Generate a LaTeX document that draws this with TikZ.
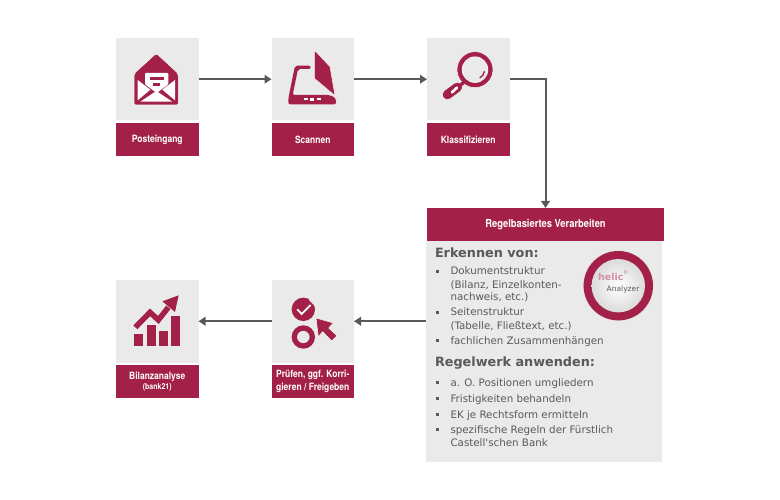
\documentclass[tikz,border=0pt]{standalone}
\usepackage{fontspec}
\setmainfont{DejaVu Sans}
\newfontfamily\plainf{DejaVu Sans}
\newfontfamily\condf[FakeStretch=0.85]{TeX Gyre Heros}
\usetikzlibrary{arrows.meta}
\definecolor{crim}{HTML}{A32148}
\definecolor{panel}{HTML}{EAEAEA}
\definecolor{txt}{HTML}{595959}
\definecolor{arr}{HTML}{595959}
\tikzset{
  tile/.style={fill=panel,draw=none,minimum width=82.5pt,minimum height=82.5pt,inner sep=0pt,outer sep=0pt,anchor=north west},
  lab/.style={fill=crim,draw=none,minimum width=82.5pt,minimum height=33pt,inner sep=0pt,outer sep=0pt,anchor=north west,text=white,align=center,font=\condf\bfseries\fontsize{10}{13}\selectfont},
  flow/.style={draw=arr,line width=2pt,-{Triangle[length=7pt,width=8.5pt]}},
  zm/.style={x=0.33333pt,y=-0.33333pt},
  icon/.style={fill=crim,draw=white!70!panel,line width=.5pt},
  hole/.style={fill=white,draw=none},
  line/.style={anchor=base west,text=txt,inner sep=0pt,outer sep=0pt,font=\fontsize{10.3}{12}\selectfont},
  head/.style={anchor=base west,text=txt,inner sep=0pt,outer sep=0pt,font=\bfseries\fontsize{12.8}{14}\selectfont},
  bul/.style={fill=txt,draw=none,minimum size=3pt,inner sep=0pt,outer sep=0pt}
}
\begin{document}
\begin{tikzpicture}[x=1pt,y=-1pt]
\useasboundingbox (0,0) rectangle (780,500);
% tiles
\node[tile] (t1) at (116,38) {};
\node[lab] (l1) at (116,123) {Posteingang};
\node[tile] (t2) at (271.5,38) {};
\node[lab] (l2) at (271.5,123) {Scannen};
\node[tile] (t3) at (427,38) {};
\node[lab] (l3) at (427,123) {Klassifizieren};
\node[tile] (t4) at (116,280) {};
\node[lab] (l4) at (116,365) {Bilanzanalyse\\[-2.5pt]{\fontsize{8.2}{9}\selectfont(bank21)}};
\node[tile] (t5) at (271.5,280) {};
\node[lab] (l5) at (271.5,365) {Prüfen, ggf. Korri-\\gieren / Freigeben};
% big panel
\node[fill=panel,minimum width=236pt,minimum height=221pt,inner sep=0pt,outer sep=0pt,anchor=north west] (body) at (426,241) {};
\node[lab,minimum width=237pt,font=\condf\bfseries\fontsize{11}{13}\selectfont] (hdr) at (427,208) {Regelbasiertes Verarbeiten};
% connectors
\draw[flow] (t1.east) -- (t2.west);
\draw[flow] (t2.east) -- (t3.west);
\draw[flow] (t3.east) -| (hdr.north);
\draw[flow] (t5.west) -- (t4.east);
\draw[flow] (t5.east -| body.west) -- (t5.east);
% envelope
\begin{scope}[shift={(125,45)},zm]
\fill[icon,rounded corners=2pt] (94,25) -- (160,86) -- (160,180) -- (27,180) -- (27,86) -- cycle;
\fill[hole,rounded corners=1pt] (60,84) -- (130,84) -- (130,118) -- (95,144) -- (60,118) -- cycle;
\fill[crim] (74,97) rectangle (116,105);
\fill[crim] (84,115) rectangle (106,122);
\fill[hole] (38,105) -- (76,134) -- (38,166) -- cycle;
\fill[hole] (150,105) -- (112,134) -- (150,166) -- cycle;
\fill[hole] (46,170) -- (94,138) -- (142,170) -- cycle;
\end{scope}
% scanner
\begin{scope}[shift={(280,45)},zm]
\fill[crim,rounded corners=2pt] (25,178) -- (25,160) -- (45,62) -- (92,62) -- (92,72) -- (54,72) -- (38,150) -- (150,150) -- (168,160) -- (168,178) -- cycle;
\fill[icon] (103,15) -- (150,65) -- (165,152) -- (103,100) -- cycle;
\fill[hole] (71,160) rectangle (84,165);
\fill[hole] (91,158) rectangle (103,167);
\fill[hole] (110,160) rectangle (123,165);
\end{scope}
% magnifier
\begin{scope}[shift={(440,48)},zm]
\fill[icon] (105,65) circle[radius=18pt];
\fill[white!70!panel] (105,65) circle[radius=13.2pt];
\fill[panel] (105,65) circle[radius=12.6pt];
\draw[crim,line width=1.3pt] (133,70) arc[start angle=-5,end angle=-65,radius=8pt];
\draw[crim,line width=3.5pt] (74,100) -- (50,122);
\draw[crim,line width=9.3pt,line cap=round] (52,118) -- (22,140);
\draw[white,line width=2.7pt,line cap=round] (36,133) -- (51,119);
\end{scope}
% chart
\begin{scope}[shift={(125,288)},zm]
\fill[crim] (28,138) rectangle (55,175);
\fill[crim] (65,112) rectangle (92,175);
\fill[crim] (102,130) rectangle (130,175);
\fill[crim] (138,83) rectangle (165,175);
\draw[crim,line width=5.5pt] (31,118) -- (75,73) -- (100,96) -- (130,58);
\fill[crim] (161,22) -- (150,72) -- (112,40) -- cycle;
\end{scope}
% check
\begin{scope}[shift={(280,288)},zm]
\fill[crim] (70,64) circle[radius=11.7pt];
\draw[white,line width=1.8pt] (52,64) -- (65,78) -- (92,51);
\draw[panel,line width=1.4pt] (88,34) -- (107,54);
\draw[crim,line width=5.3pt] (70,147) circle[radius=9pt];
\fill[icon] (108,90) -- (160,105) -- (146,120) -- (171,143) -- (155,159) -- (128,131) -- (115,146) -- cycle;
\end{scope}
% text
\node[head] (h1) at (435,258) {Erkennen von:};
\node[line] (a1) at (450.5,275) {Dokumentstruktur};
\node[line] (a2) at (450.5,288) {(Bilanz, Einzelkonten-};
\node[line] (a3) at (450.5,300.5) {nachweis, etc.)};
\node[line] (a4) at (450.5,315.5) {Seitenstruktur};
\node[line] (a5) at (450.5,329) {(Tabelle, Fließtext, etc.)};
\node[line] (a6) at (450.5,344.5) {fachlichen Zusammenhängen};
\node[head] (h2) at (435,366) {Regelwerk anwenden:};
\node[line] (b1) at (450.5,386) {a. O. Positionen umgliedern};
\node[line] (b2) at (450.5,402) {Fristigkeiten behandeln};
\node[line] (b3) at (450.5,418) {EK je Rechtsform ermitteln};
\node[line] (b4) at (450.5,433.5) {spezifische Regeln der Fürstlich};
\node[line] (b5) at (450.5,446.5) {Castell{\plainf '}schen Bank};
\foreach \n/\y in {p1/271.5,p2/312,p3/340,q1/382.5,q2/398.5,q3/414,q4/429.5}{
  \node[bul] (\n) at (437,\y) {};
}
% seal
\fill[white!80!gray] (618.3,285.7) circle[radius=35.7];
\fill[crim] (618.3,285.7) circle[radius=34.7];
\shade[inner color=white,outer color=black!14] (618.3,285.7) circle[radius=26.7];
\node[anchor=base west,inner sep=0pt,text=crim!50,font=\bfseries\fontsize{9.5}{10}\selectfont] (hel) at (598,280) {helic};
\node[anchor=base west,inner sep=0pt,text=txt,font=\fontsize{7.5}{9}\selectfont] (ana) at (606.5,291) {Analyzer};
\draw[crim!50,line width=.5pt] (625.8,270.2) -- (627.6,272) -- (625.8,273.8) -- (624,272) -- cycle;
\end{tikzpicture}
\end{document}
